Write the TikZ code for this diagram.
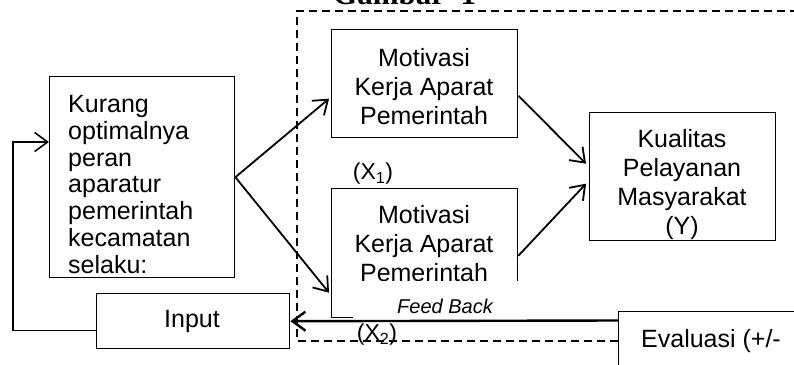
\documentclass[tikz,border=0pt]{standalone}
\usepackage{fontspec}
\setmainfont{Liberation Sans}
\newfontfamily\titlefont{Liberation Serif}
\usetikzlibrary{arrows.meta,calc}
\begin{document}
\begin{tikzpicture}[x=1pt,y=-1pt,
  box/.style={draw, line width=1.4pt, anchor=north west, inner sep=0pt},
  txt/.style={inner sep=0pt, font=\fontsize{25}{29}\selectfont},
  arr/.style={line width=1.8pt, -{Straight Barb[length=13pt,width=19pt]}},
  frame/.style={line width=1.2pt, dash pattern=on 8pt off 5pt}]
\useasboundingbox (0,0) rectangle (794,364);

% title, mostly above the page edge
\node[inner sep=0pt, anchor=base west, font=\titlefont\bfseries\fontsize{31}{31}\selectfont] (title) at (333,4.5) {Gambar\ \ 1};

% dashed frame round the two variables
\coordinate (frBL) at (297,341);
\coordinate (frTL) at (297,11);
\coordinate (frTR) at (800,11);

% boxes
\node[box, minimum width=185, minimum height=201] (kur) at (49,76) {};
\node[box, minimum width=193, minimum height=55] (inp) at (96,293) {};
\node[box, minimum width=186, minimum height=108] (mot1) at (331,29) {};
\node[box, minimum width=186, minimum height=129] (mot2) at (331,188) {};
\node[box, minimum width=186, minimum height=128] (kual) at (589,112) {};
\node[box, minimum width=230, minimum height=90] (ev) at (618,311) {};

\draw[frame] (ev.north west |- frBL) -- (frBL) -- (frTL) -- (frTR);

% texts
\node[txt, align=left, anchor=north west, font=\fontsize{25}{26.8}\selectfont] (kurtxt) at (68,95)
  {Kurang\\optimalnya\\peran\\aparatur\\pemerintah\\kecamatan\\selaku:};
\node[txt, anchor=base] (inptxt) at (192,327) {Input};
\node[txt, align=center, anchor=north] (mot1txt) at (424,48) {Motivasi\\Kerja Aparat\\Pemerintah};
\node[txt, align=center, anchor=north] (mot2txt) at (424,205) {Motivasi\\Kerja Aparat\\Pemerintah};
\node[txt, align=center, anchor=north] (kualtxt) at (682,129) {Kualitas\\Pelayanan\\Masyarakat\\(Y)};
\node[txt, anchor=base west] (evtxt) at (641,347) {Evaluasi (+/-};
\node[inner sep=0pt, font=\fontsize{23}{23}\selectfont] (x1) at (373,174) {(X\textsubscript{1})};
\node[inner sep=0pt, font=\fontsize{23}{23}\selectfont] (x2) at (377,335) {(X\textsubscript{2})};

% feed back label laid over the lower part of the second box
\node[fill=white, anchor=north west, minimum width=177, minimum height=37, inner sep=0pt] (fbcover) at (353,281) {};
\node[inner sep=0pt, font=\itshape\fontsize{20}{20}\selectfont] (fb) at (445,306) {Feed Back};

% connectors
\draw[arr] (kur.east) -- ($(mot1.west)+(-2,15)$);
\draw[arr] (kur.east) -- ($(mot2.west)+(-2,39.5)$);
\draw[arr] ($(mot1.east)+(0,12)$) -- ($(kual.west)+(-3,-13)$);
\draw[arr] ($(mot2.east)+(0,2.5)$) -- ($(kual.west)+(-3,7)$);
\draw[arr, line width=2.4pt] ($(ev.north west)+(0,9.5)$) -- (inp.east);
\draw[arr, line width=1.6pt] ($(inp.south west)+(0,-19)$) -- ++(-83,0) |- ($(kur.north west)+(0,66)$);
\end{tikzpicture}
\end{document}
